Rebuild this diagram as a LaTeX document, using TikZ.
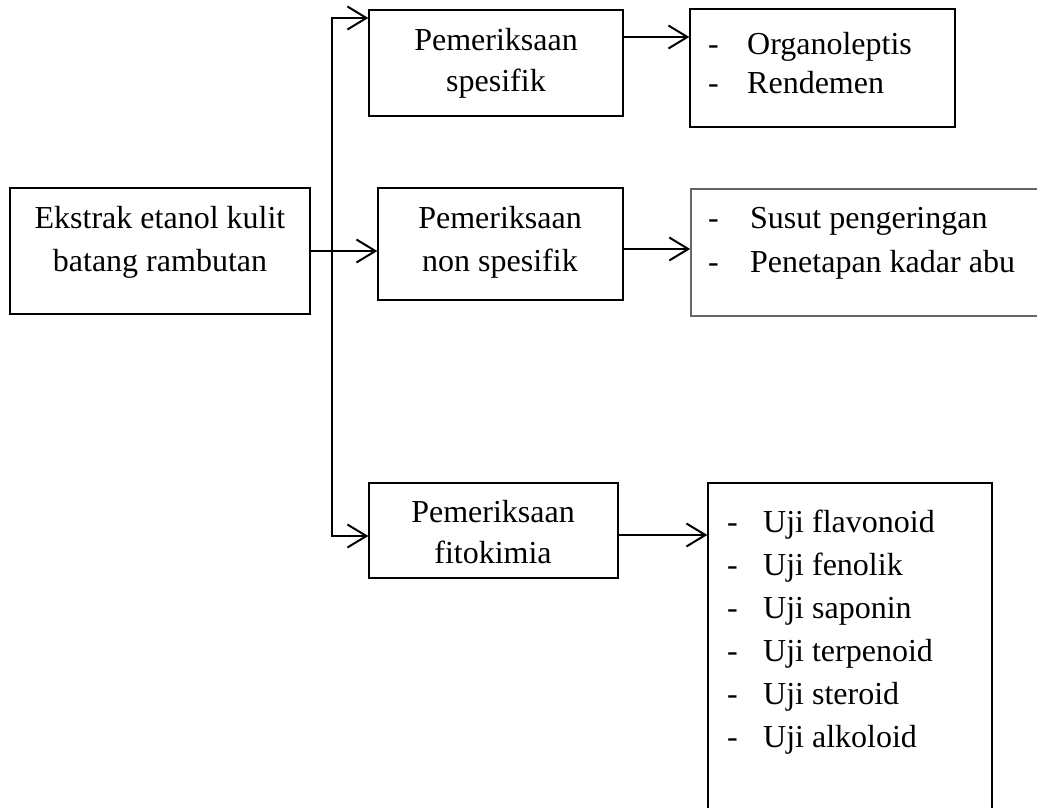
\documentclass[tikz,border=0pt]{standalone}
\usepackage{fontspec}
\setmainfont{Liberation Serif}
\usetikzlibrary{arrows.meta,calc}
\begin{document}
\begin{tikzpicture}[x=1pt,y=-1pt,
  box/.style={draw=black,line width=1.3pt,rectangle,inner sep=0pt},
  gbox/.style={draw=black!60,line width=1.6pt,rectangle,inner sep=0pt},
  conn/.style={line width=2pt,line cap=rect},
  arr/.style={line width=2pt,-{Straight Barb[length=19pt,width=23pt,line width=2pt]}},
  txt/.style={anchor=base,inner sep=0pt,font=\fontsize{32}{40}\selectfont},
  ltxt/.style={anchor=base west,inner sep=0pt,font=\fontsize{32}{40}\selectfont}]
\useasboundingbox (0,0) rectangle (1037,807);
% boxes
\node[box,minimum width=300pt,minimum height=126pt] (L) at (160,251) {};
\node[box,minimum width=254pt,minimum height=106pt] (B1) at (496,63) {};
\node[box,minimum width=245pt,minimum height=112pt] (B2) at (500.5,244) {};
\node[box,minimum width=249pt,minimum height=95pt] (B3) at (493.5,530.5) {};
\node[box,minimum width=265pt,minimum height=118pt] (R1) at (822.5,68) {};
\node[gbox,minimum width=369pt,minimum height=127pt] (R2) at (875.5,252.5) {};
\node[box,minimum width=284pt,minimum height=367pt] (R3) at (850,666.5) {};
% texts
\node[txt] (tL1) at (160,228) {Ekstrak etanol kulit};
\node[txt] (tL2) at (160,271) {batang rambutan};
\node[txt] (t11) at (496,50) {Pemeriksaan};
\node[txt] (t12) at (496,91) {spesifik};
\node[txt] (t21) at (500,228) {Pemeriksaan};
\node[txt] (t22) at (500,271) {non spesifik};
\node[txt] (t31) at (493,522) {Pemeriksaan};
\node[txt] (t32) at (493,563) {fitokimia};
% right lists
\node[ltxt] (d11) at (708,54) {-};
\node[ltxt] (r11) at (747,54) {Organoleptis};
\node[ltxt] (d12) at (708,93) {-};
\node[ltxt] (r12) at (747,93) {Rendemen};
\node[ltxt] (d21) at (708,228) {-};
\node[ltxt] (r21) at (750,228) {Susut pengeringan};
\node[ltxt] (d22) at (708,272) {-};
\node[ltxt] (r22) at (750,272) {Penetapan kadar abu};
\node[ltxt] (d31) at (727,532) {-};
\node[ltxt] (r31) at (763,532) {Uji flavonoid};
\node[ltxt] (d32) at (727,575) {-};
\node[ltxt] (r32) at (763,575) {Uji fenolik};
\node[ltxt] (d33) at (727,618) {-};
\node[ltxt] (r33) at (763,618) {Uji saponin};
\node[ltxt] (d34) at (727,661) {-};
\node[ltxt] (r34) at (763,661) {Uji terpenoid};
\node[ltxt] (d35) at (727,704) {-};
\node[ltxt] (r35) at (763,704) {Uji steroid};
\node[ltxt] (d36) at (727,747) {-};
\node[ltxt] (r36) at (763,747) {Uji alkoloid};
% connectors
\coordinate (jt) at (332,18);
\coordinate (jb) at (332,536);
\coordinate (y1) at (0,37);
\coordinate (y2) at (0,249);
\coordinate (y3) at (0,535);
\draw[conn] (jt) -- (jb);
\draw[arr] (jt) -- (jt -| B1.west);
\draw[arr] (jb) -- (jb -| B3.west);
\draw[arr] (L.east) -- (L.east -| B2.west);
\draw[arr] (B1.east |- y1) -- (R1.west |- y1);
\draw[arr] (B2.east |- y2) -- (R2.west |- y2);
\draw[arr] (B3.east |- y3) -- (R3.west |- y3);
\end{tikzpicture}
\end{document}
